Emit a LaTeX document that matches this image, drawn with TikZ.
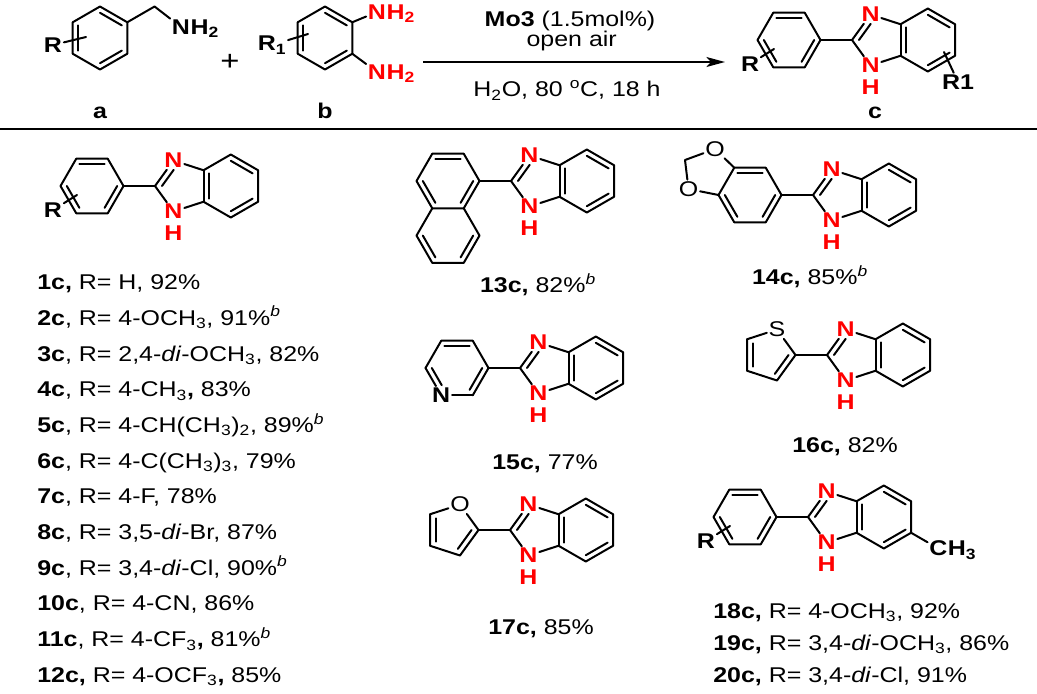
\documentclass[tikz,border=0pt]{standalone}
\usepackage{fontspec}
\setmainfont{Liberation Sans}[FakeStretch=1.17]
\usetikzlibrary{calc,arrows.meta}
\definecolor{nred}{RGB}{255,0,0}
\tikzset{
  bond/.style={line width=1.5pt, line cap=round, line join=round},
  lab/.style={font=\fontsize{16}{16}\selectfont\bfseries, inner sep=1.2pt},
  labr/.style={lab, text=nred},
  labo/.style={font=\fontsize{16}{16}\selectfont, inner sep=1.2pt},
  sub/.style={anchor=base west, inner sep=0pt, xshift=-1.2pt},
  txt/.style={font=\fontsize{16}{19}\selectfont, inner sep=0pt},
  lbl/.style={txt, anchor=base west},
  clbl/.style={txt, anchor=base},
}
\newcommand{\dbl}[3]{\draw[bond] ($(#1)!0.2!(#3)$) -- ($(#2)!0.2!(#3)$);}
\newcommand{\dblp}[3]{\draw[bond] ($(#1)!0.26!(#3)$) -- ($(#2)!0.26!(#3)$);}
% benzimidazol-2-yl, C2 at (#2,#3)
\newcommand{\bzim}[3]{%
  \begin{scope}[shift={(#2,#3)}]
    \coordinate (#1c2) at (0,0);
    \node[labr] (#1n3) at (18.5,-25.5) {N};
    \node[labr] (#1n1) at (18.5,25.5) {N};
    \node[labr] (#1h) at (18.5,47) {H};
    \coordinate (#1a) at (48.52,-15.75);
    \coordinate (#1b) at (48.52,15.75);
    \coordinate (#1c4) at (75.8,-31.5);
    \coordinate (#1c5) at (103.08,-15.75);
    \coordinate (#1c6) at (103.08,15.75);
    \coordinate (#1c7) at (75.8,31.5);
    \coordinate (#1pc) at (26.8,0);
    \coordinate (#1bc) at (75.8,0);
  \end{scope}
  \draw[bond] (#1c2) -- (#1n3);
  \draw[bond] (#1n3) -- (#1a);
  \draw[bond] (#1a) -- (#1c4) -- (#1c5) -- (#1c6) -- (#1c7) -- (#1b);
  \draw[bond] (#1a) -- (#1b);
  \draw[bond] (#1b) -- (#1n1);
  \draw[bond] (#1n1) -- (#1c2);
  \draw[bond, shorten >=2.5pt] ($(#1c2)!0.26!(#1pc)$) -- ($(#1n3)!0.26!(#1pc)$);
  \dbl{#1a}{#1b}{#1bc}
  \dbl{#1c4}{#1c5}{#1bc}
  \dbl{#1c6}{#1c7}{#1bc}
}
% flat-top benzene centred at (#2,#3)
\newcommand{\phen}[3]{%
  \begin{scope}[shift={(#2,#3)}]
    \coordinate (#1r) at (31.5,0);
    \coordinate (#1ur) at (15.75,-27.28);
    \coordinate (#1ul) at (-15.75,-27.28);
    \coordinate (#1l) at (-31.5,0);
    \coordinate (#1ll) at (-15.75,27.28);
    \coordinate (#1lr) at (15.75,27.28);
    \coordinate (#1cen) at (0,0);
  \end{scope}
  \draw[bond] (#1r) -- (#1ur) -- (#1ul) -- (#1l) -- (#1ll) -- (#1lr) -- cycle;
  \dbl{#1ul}{#1ur}{#1cen}
  \dbl{#1r}{#1lr}{#1cen}
  \dbl{#1ll}{#1l}{#1cen}
}
\newcommand{\phR}[1]{%
  \node[lab] (#1R) at ($(#1cen)+(-39,24)$) {R};
  \coordinate (#1Re) at ($(#1cen)+(-15,9)$);
  \draw[bond] (#1R) -- (#1Re);
}
\begin{document}
\begin{tikzpicture}[x=0.75pt,y=-0.75pt]
\useasboundingbox (0,0) rectangle (1037,693);

% ---------- reactant a ----------
\coordinate (aT) at (100,6.5);
\coordinate (aUR) at (127.28,22.25);
\coordinate (aLR) at (127.28,53.75);
\coordinate (aB) at (100,69.5);
\coordinate (aLL) at (72.72,53.75);
\coordinate (aUL) at (72.72,22.25);
\coordinate (acen) at (100,38);
\draw[bond] (aT) -- (aUR) -- (aLR) -- (aB) -- (aLL) -- (aUL) -- cycle;
\dbl{aT}{aUR}{acen}
\dbl{aLR}{aB}{acen}
\dbl{aLL}{aUL}{acen}
\coordinate (ach2) at (154.56,6.5);
\node[lab] (aN) at (181,27) {N};
\node[lab, sub] (aH) at (aN.base east) {H\textsubscript{2}};
\draw[bond] (aUR) -- (ach2) -- (aN);
\node[lab] (aR) at (53,45) {R};
\coordinate (aRe) at (86,37);
\draw[bond] (aR) -- (aRe);
\node[txt, font=\fontsize{16}{19}\selectfont\bfseries, anchor=base] (alab) at (100,118.3) {a};

% plus
\node[font=\fontsize{21}{21}\selectfont, inner sep=0pt] (plus) at (230,62.5) {+};

% ---------- reactant b ----------
\coordinate (bT) at (325,6.5);
\coordinate (bUR) at (352.28,22.25);
\coordinate (bLR) at (352.28,53.75);
\coordinate (bB) at (325,69.5);
\coordinate (bLL) at (297.72,53.75);
\coordinate (bUL) at (297.72,22.25);
\coordinate (bcen) at (325,38);
\draw[bond] (bT) -- (bUR) -- (bLR) -- (bB) -- (bLL) -- (bUL) -- cycle;
\dbl{bT}{bUR}{bcen}
\dbl{bLR}{bB}{bcen}
\dbl{bLL}{bUL}{bcen}
\node[labr] (bN1) at (377,12) {N};
\node[labr, sub] (bH1) at (bN1.base east) {H\textsubscript{2}};
\node[labr] (bN2) at (377,72) {N};
\node[labr, sub] (bH2) at (bN2.base east) {H\textsubscript{2}};
\draw[bond] (bUR) -- (bN1);
\draw[bond] (bLR) -- (bN2);
\node[lab] (bR) at (272,45) {R\textsubscript{1}};
\coordinate (bRe) at (308,34);
\draw[bond] (bR) -- (bRe);
\node[txt, font=\fontsize{16}{19}\selectfont\bfseries, anchor=base] (blab) at (325,118.3) {b};

% ---------- arrow ----------
\coordinate (arrS) at (423,62);
\coordinate (arrE) at (725,62);
\draw[line width=1pt, -{Stealth[length=14pt,width=7.5pt,inset=3.5pt]}] (arrS) -- (arrE);
\node[clbl] (cond1) at (570,26.7) {\textbf{Mo3} (1.5mol\%)};
\node[clbl] (cond2) at (571.7,46.7) {open air};
\node[clbl] (cond3) at (567,96.7) {H\textsubscript{2}O, 80 \textsuperscript{o}C, 18 h};

% ---------- product c ----------
\bzim{p}{852}{40}
\phen{q}{789}{40}
\draw[bond] (qr) -- (pc2);
\phR{q}
\node[lab] (pR1) at (958,82) {R1};
\coordinate (pR1e) at (944,52);
\draw[bond] (pR1) -- (pR1e);
\node[txt, font=\fontsize{16}{19}\selectfont\bfseries, anchor=base] (clab) at (875,118.3) {c};

% rule
\coordinate (ruleL) at (0,129);
\coordinate (ruleR) at (1037,129);
\draw[line width=1.1pt] (ruleL) -- (ruleR);

% ---------- 1c ----------
\bzim{m1}{155}{186}
\phen{f1}{92}{186}
\draw[bond] (f1r) -- (m1c2);
\phR{f1}

% ---------- 13c ----------
\bzim{m13}{511}{181}
\begin{scope}[shift={(448,181)}]
  \coordinate (nr) at (31.5,0);
  \coordinate (nur) at (15.75,-27.28);
  \coordinate (nul) at (-15.75,-27.28);
  \coordinate (nl) at (-31.5,0);
  \coordinate (nll) at (-15.75,27.28);
  \coordinate (nlr) at (15.75,27.28);
  \coordinate (nc) at (0,0);
  \coordinate (nr2) at (31.5,54.56);
  \coordinate (nlr2) at (15.75,81.84);
  \coordinate (nll2) at (-15.75,81.84);
  \coordinate (nl2) at (-31.5,54.56);
  \coordinate (nc2) at (0,54.56);
\end{scope}
\draw[bond] (nr) -- (nur) -- (nul) -- (nl) -- (nll) -- (nlr) -- cycle;
\draw[bond] (nlr) -- (nr2) -- (nlr2) -- (nll2) -- (nl2) -- (nll);
\dbl{nul}{nur}{nc}
\dbl{nr}{nlr}{nc}
\dbl{nll}{nl}{nc}
\dbl{nr2}{nlr2}{nc2}
\dbl{nll2}{nl2}{nc2}
\draw[bond] (nr) -- (m13c2);

% ---------- 14c ----------
\bzim{m14}{813}{195}
\phen{f14}{750}{195}
\draw[bond] (f14r) -- (m14c2);
\node[labo] (o14a) at (715,149) {O};
\node[labo] (o14b) at (688.5,189) {O};
\coordinate (ch14) at (685,160);
\draw[bond] (f14ul) -- (o14a);
\draw[bond] (o14a) -- (ch14) -- (o14b);
\draw[bond] (o14b) -- (f14l);

% ---------- 15c ----------
\bzim{m15}{520}{368}
\begin{scope}[shift={(457,368)}]
  \coordinate (yr) at (31.5,0);
  \coordinate (yur) at (15.75,-27.28);
  \coordinate (yul) at (-15.75,-27.28);
  \coordinate (yl) at (-31.5,0);
  \node[lab] (yN) at (-15.75,27.28) {N};
  \coordinate (ylr) at (15.75,27.28);
  \coordinate (yc) at (0,0);
\end{scope}
\draw[bond] (yN) -- (ylr);
\draw[bond] (ylr) -- (yr) -- (yur) -- (yul) -- (yl);
\draw[bond] (yl) -- (yN);
\dbl{yul}{yur}{yc}
\dbl{yr}{ylr}{yc}
\draw[bond, shorten <=4pt] ($(yN)!0.2!(yc)$) -- ($(yl)!0.2!(yc)$);
\draw[bond] (yr) -- (m15c2);

% ---------- 16c ----------
\bzim{m16}{827}{355}
\begin{scope}[shift={(768.7,355)}]
  \coordinate (tc2) at (26.8,0);
  \node[labo] (tS) at (8.28,-25.49) {S};
  \coordinate (tc3) at (8.28,25.49);
  \coordinate (tc4) at (-21.68,15.75);
  \coordinate (tc5) at (-21.68,-15.75);
  \coordinate (tc) at (0,0);
\end{scope}
\draw[bond] (tS) -- (tc2);
\draw[bond] (tc2) -- (tc3) -- (tc4) -- (tc5);
\draw[bond] (tc5) -- (tS);
\dblp{tc2}{tc3}{tc}
\dblp{tc4}{tc5}{tc}
\draw[bond] (tc2) -- (m16c2);

% ---------- 17c ----------
\bzim{m17}{510}{530}
\begin{scope}[shift={(451.7,530)}]
  \coordinate (uc2) at (26.8,0);
  \node[labo] (uO) at (8.28,-25.49) {O};
  \coordinate (uc3) at (8.28,25.49);
  \coordinate (uc4) at (-21.68,15.75);
  \coordinate (uc5) at (-21.68,-15.75);
  \coordinate (uc) at (0,0);
\end{scope}
\draw[bond] (uO) -- (uc2);
\draw[bond] (uc2) -- (uc3) -- (uc4) -- (uc5);
\draw[bond] (uc5) -- (uO);
\dblp{uc2}{uc3}{uc}
\dblp{uc4}{uc5}{uc}
\draw[bond] (uc2) -- (m17c2);

% ---------- 18c ----------
\bzim{m18}{808}{517}
\phen{f18}{745}{517}
\draw[bond] (f18r) -- (m18c2);
\phR{f18}
\node[lab] (m18C) at (938.4,548.5) {C};
\node[lab, sub] (m18H) at (m18C.base east) {H\textsubscript{3}};
\draw[bond] (m18c6) -- (m18C);

% ---------- texts ----------
\node[lbl] (t1) at (37,289.6) {\textbf{1c,} R= H, 92\%};
\node[lbl] (t2) at (37,325.3) {\textbf{2c}, R= 4-OCH\textsubscript{3}, 91\%\textsuperscript{\textit{b}}};
\node[lbl] (t3) at (37,361.0) {\textbf{3c}, R= 2,4-\textit{di}-OCH\textsubscript{3}, 82\%};
\node[lbl] (t4) at (37,396.7) {\textbf{4c}, R= 4-CH\textsubscript{3}\textbf{,} 83\%};
\node[lbl] (t5) at (37,432.4) {\textbf{5c}, R= 4-CH(CH\textsubscript{3})\textsubscript{2}, 89\%\textsuperscript{\textit{b}}};
\node[lbl] (t6) at (37,468.1) {\textbf{6c}, R= 4-C(CH\textsubscript{3})\textsubscript{3}, 79\%};
\node[lbl] (t7) at (37,503.8) {\textbf{7c}, R= 4-F, 78\%};
\node[lbl] (t8) at (37,539.5) {\textbf{8c}, R= 3,5-\textit{di}-Br, 87\%};
\node[lbl] (t9) at (37,575.2) {\textbf{9c}, R= 3,4-\textit{di}-Cl, 90\%\textsuperscript{\textit{b}}};
\node[lbl] (t10) at (37,610.9) {\textbf{10c}, R= 4-CN, 86\%};
\node[lbl] (t11) at (37,646.6) {\textbf{11c}, R= 4-CF\textsubscript{3}\textbf{,} 81\%\textsuperscript{\textit{b}}};
\node[lbl] (t12) at (37,682.3) {\textbf{12c,} R= 4-OCF\textsubscript{3}\textbf{,} 85\%};

\node[clbl] (t13) at (538,292.5) {\textbf{13c,} 82\%\textsuperscript{\textit{b}}};
\node[clbl] (t14) at (810,284.5) {\textbf{14c,} 85\%\textsuperscript{\textit{b}}};
\node[clbl] (t15) at (545,469.5) {\textbf{15c,} 77\%};
\node[clbl] (t16) at (845,452.5) {\textbf{16c,} 82\%};
\node[clbl] (t17) at (541,634) {\textbf{17c,} 85\%};
\node[lbl] (t18) at (713,618) {\textbf{18c,} R= 4-OCH\textsubscript{3}, 92\%};
\node[lbl] (t19) at (713,650) {\textbf{19c,} R= 3,4-\textit{di}-OCH\textsubscript{3}, 86\%};
\node[lbl] (t20) at (713,682.3) {\textbf{20c,} R= 3,4-\textit{di}-Cl, 91\%};
\end{tikzpicture}
\end{document}
